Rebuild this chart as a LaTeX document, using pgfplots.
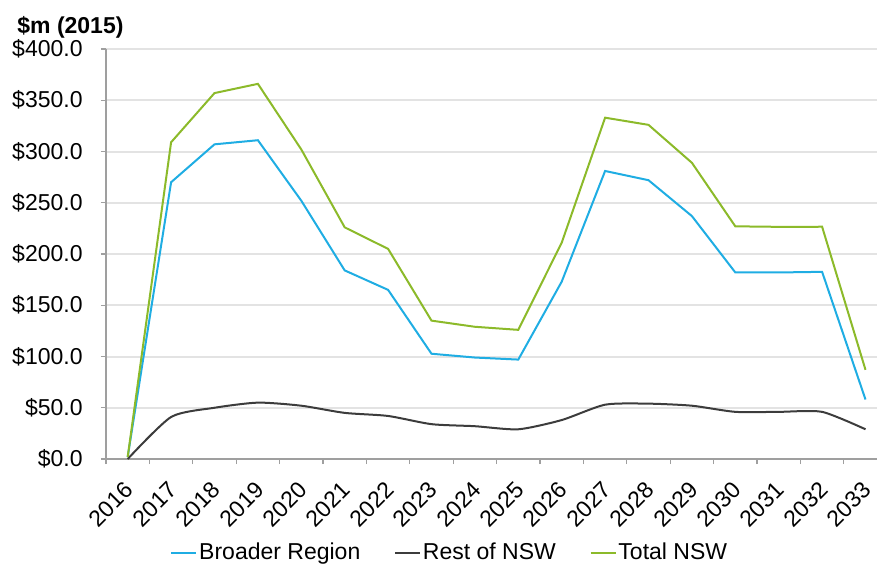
\documentclass[border=0pt]{standalone}
\usepackage{fontspec}
\setmainfont{Liberation Sans}
\usepackage{pgfplots}
\pgfplotsset{compat=1.18}
\definecolor{cBlue}{HTML}{1FADE3}
\definecolor{cGreen}{HTML}{8CBA2A}
\definecolor{cDark}{HTML}{3C3C3C}
\begin{document}
\begin{tikzpicture}
\useasboundingbox (-53pt,-55pt) rectangle (385.5pt,229.5pt);
\begin{axis}[
  at={(0pt,0pt)}, anchor=south west,
  scale only axis, width=385.5pt, height=205pt,
  xmin=-0.5, xmax=17.265, ymin=0, ymax=400,
  axis x line=bottom, axis y line=left,
  axis line style={-, draw=gray!75, line width=0.6pt},
  xtick={0,...,17},
  xticklabels={2016,2017,2018,2019,2020,2021,2022,2023,2024,2025,2026,2027,2028,2029,2030,2031,2032,2033},
  minor xtick={-0.5,0.5,...,16.5},
  ytick={0,50,...,400},
  yticklabels={\$0.0,\$50.0,\$100.0,\$150.0,\$200.0,\$250.0,\$300.0,\$350.0,\$400.0},
  tick align=outside,
  major tick length=2.5pt, minor tick length=2.5pt,
  major x tick style={draw=none},
  minor x tick style={draw=gray!75, line width=0.6pt},
  major y tick style={draw=gray!75, line width=0.6pt},
  ymajorgrids,
  major grid style={draw=gray!22, line width=1pt},
  /pgf/number format/assume math mode=true,
  tick label style={font=\fontsize{11.5}{13}\selectfont},
  yticklabel style={anchor=east, inner sep=0pt, xshift=-9pt},
  xticklabel style={inner sep=0pt, xshift=1pt, yshift=-11pt, rotate=45, anchor=east},
  legend style={at={(0.446,-0.229)}, anchor=center, draw=none, fill=none,
    font=\fontsize{11.5}{13}\selectfont, inner sep=0pt,
    /tikz/every even column/.append style={column sep=16pt},
    nodes={inner xsep=1pt}},
  legend columns=3,
  legend cell align=left,
  legend image code/.code={\draw[#1,line width=0.8pt] (0pt,0pt) -- (12.5pt,0pt);},
  clip=false,
]
\addplot[cBlue, line width=1pt] coordinates {
(0,2) (1,270) (2,307) (3,311) (4,252) (5,184) (6,165) (7,102.7) (8,99) (9,97)
(10,173) (11,281) (12,272) (13,237) (14,182) (15,182) (16,182.6) (17,58)};
\addlegendentry{Broader Region}
\addplot[cDark, line width=1pt, smooth, tension=0.4] coordinates {
(0,0) (1,41) (2,50) (3,55) (4,52) (5,45) (6,42) (7,34) (8,32) (9,29)
(10,38) (11,53) (12,54) (13,52) (14,46) (15,46) (16,46) (17,29)};
\addlegendentry{Rest of NSW}
\addplot[cGreen, line width=1pt] coordinates {
(0,2) (1,309) (2,357) (3,366) (4,302) (5,226) (6,205) (7,135) (8,129) (9,126)
(10,211) (11,333) (12,326) (13,289) (14,227) (15,226.5) (16,226.6) (17,87)};
\addlegendentry{Total NSW}
\end{axis}
\node[anchor=west, inner sep=0pt, font=\fontsize{11.5}{13}\selectfont\bfseries] at (-44.5pt,216pt) {\$m (2015)};
\end{tikzpicture}
\end{document}
